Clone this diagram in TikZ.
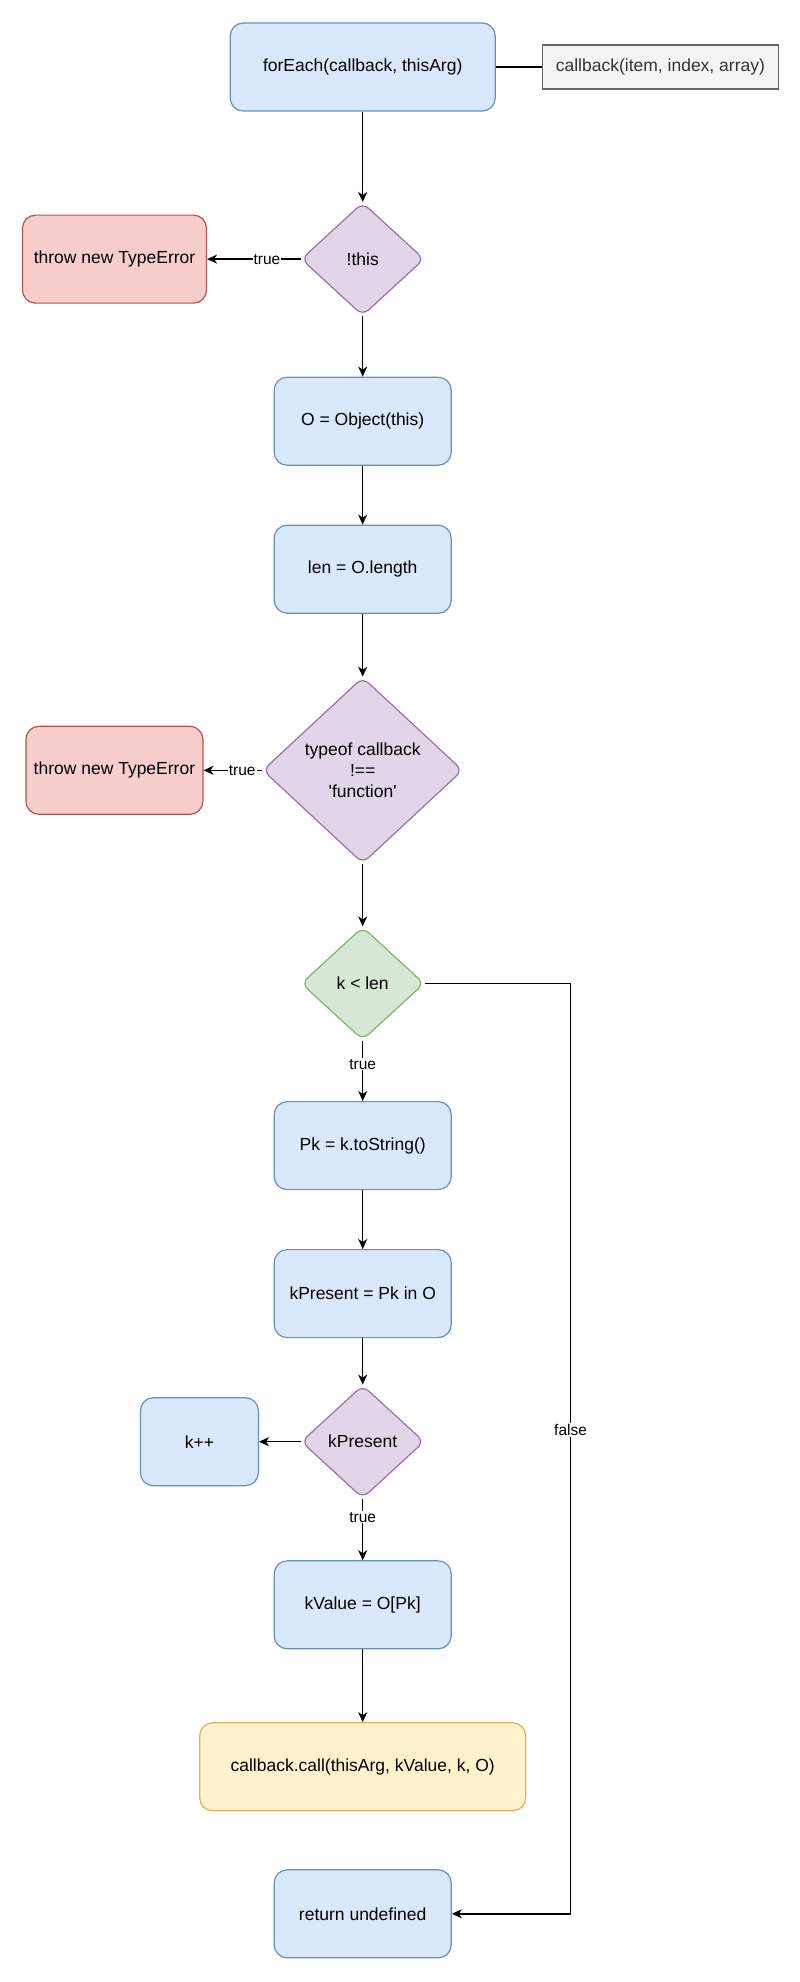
\documentclass[tikz,border=0pt]{standalone}
\usepackage{fontspec}
\setmainfont{Liberation Sans}
\usepackage{tikz}
\usetikzlibrary{arrows.meta,positioning,calc,shapes}

\definecolor{bluefill}{HTML}{DAE8FC}
\definecolor{blueline}{HTML}{6C8EBF}
\definecolor{redfill}{HTML}{F8CECC}
\definecolor{redline}{HTML}{B85450}
\definecolor{purpfill}{HTML}{E1D5E7}
\definecolor{purpline}{HTML}{9673A6}
\definecolor{greenfill}{HTML}{D5E8D4}
\definecolor{greenline}{HTML}{82B366}
\definecolor{yelfill}{HTML}{FFF2CC}
\definecolor{yelline}{HTML}{D6B656}
\definecolor{grayfill}{HTML}{F5F5F5}
\definecolor{grayline}{HTML}{666666}
\definecolor{graytext}{HTML}{333333}

\begin{document}
\begin{tikzpicture}[x=1pt,y=1pt,node distance=58.8pt]
      \tikzstyle{base}=[font=\fontsize{17.5}{21}\selectfont,line width=1.2pt,align=center,inner sep=2pt]
      \tikzstyle{pbox}=[base,rectangle,rounded corners=13pt,draw=blueline,fill=bluefill,minimum width=177pt,minimum height=88pt]
      \tikzstyle{rbox}=[pbox,draw=redline,fill=redfill]
      \tikzstyle{ybox}=[pbox,draw=yelline,fill=yelfill]
      \tikzstyle{gbox}=[base,rectangle,draw=grayline,fill=grayfill,text=graytext,minimum width=236pt,minimum height=44pt]
      \tikzstyle{pdia}=[base,diamond,rounded corners=8pt,draw=purpline,fill=purpfill,minimum width=123pt,minimum height=113pt,inner sep=0pt]
      \tikzstyle{gdia}=[pdia,draw=greenline,fill=greenfill]
      \tikzstyle{arr}=[line width=1.5pt,-{Stealth[length=10pt,width=9pt,inset=3pt]}]
      \tikzstyle{lbl}=[font=\fontsize{15.5}{18}\selectfont,fill=white,inner sep=1pt]
      \fill[white] (0,0) rectangle (800,-1982);
      \useasboundingbox (0,0) rectangle (800,-1982);
      \node[pbox,minimum width=265pt] (foreach) at (362.7,-67) {forEach(callback, thisArg)};
      \node[gbox,right=46pt of foreach] (cbsig) {callback(item, index, array)};
      \node[pdia,below=90.4pt of foreach] (notthis) {!this};
      \node[rbox,minimum width=184pt,left=93.5pt of notthis] (err1) {throw new TypeError};
      \node[pbox,below=60.4pt of notthis] (obj) {O = Object(this)};
      \node[pbox,below=of obj] (len) {len = O.length};
      \node[pdia,minimum width=200pt,minimum height=186pt,below=62.9pt of len] (typechk) {typeof callback\\!==\\\textquotesingle function\textquotesingle};
      \node[rbox,left=58.6pt of typechk] (err2) {throw new TypeError};
      \node[gdia,below=62.5pt of typechk] (klen) {k < len};
      \node[pbox,below=60.4pt of klen] (pk) {Pk = k.toString()};
      \node[pbox,below=of pk] (kpres) {kPresent = Pk in O};
      \node[pdia,below=46.4pt of kpres] (kchk) {kPresent};
      \node[pbox,minimum width=118pt,left=41.6pt of kchk] (kinc) {k++};
      \node[pbox,below=61.4pt of kchk] (kval) {kValue = O[Pk]};
      \node[ybox,minimum width=326pt,below=72.8pt of kval] (cbcall) {callback.call(thisArg, kValue, k, O)};
      \node[pbox,below=57.8pt of cbcall] (ret) {return undefined};
      \draw[line width=1.5pt] (foreach) -- (cbsig);
      \draw[arr] (foreach) -- (notthis);
      \draw[arr] (notthis) -- node[lbl,pos=0.36]{true} (err1);
      \draw[arr] (notthis) -- (obj);
      \draw[arr] (obj) -- (len);
      \draw[arr] (len) -- (typechk);
      \draw[arr] (typechk) -- node[lbl,pos=0.34]{true} (err2);
      \draw[arr] (typechk) -- (klen);
      \draw[arr] (klen) -- node[lbl,pos=0.39]{true} (pk);
      \draw[arr] (klen.east) -- ++(145.8,0) |- node[lbl,pos=0.24]{false} (ret.east);
      \draw[arr] (pk) -- (kpres);
      \draw[arr] (kpres) -- (kchk);
      \draw[arr] (kchk) -- (kinc);
      \draw[arr] (kchk) -- node[lbl,pos=0.3]{true} (kval);
      \draw[arr] (kval) -- (cbcall);
    \end{tikzpicture}
\end{document}
